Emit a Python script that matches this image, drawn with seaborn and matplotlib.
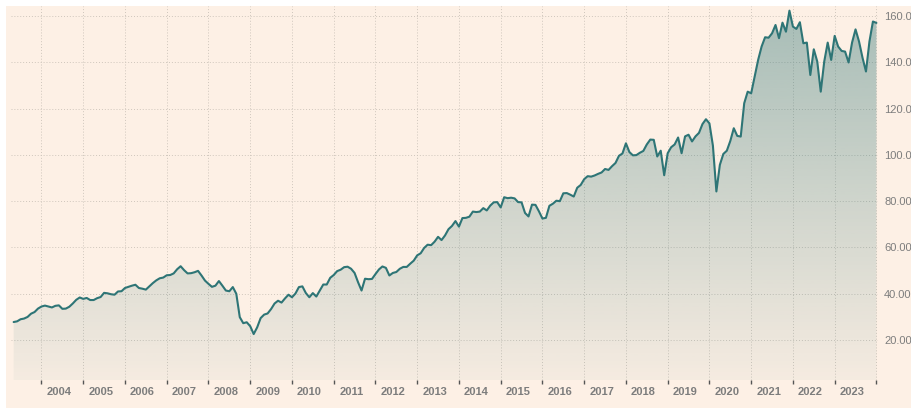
#plot.py
#monthly price history, 2003 - 2024, teal line with a faded gradient fill

import numpy as np
import pandas as pd
import matplotlib
matplotlib.use('Agg')
import matplotlib.pyplot as plt
from matplotlib.colors import to_rgb
from matplotlib.patches import PathPatch, Rectangle
import seaborn as sns

#monthly values, first month is May 2003
v2003 = [27.8, 28.1, 29.0, 29.3, 30.0, 31.4, 32.1, 33.6]
v2004 = [34.5, 34.9, 34.5, 34.1, 34.8, 35.0, 33.5, 33.6, 34.4, 35.8, 37.4, 38.4]
v2005 = [37.8, 38.2, 37.3, 37.3, 38.1, 38.6, 40.4, 40.2, 39.8, 39.6, 41.0, 41.1]
v2006 = [42.5, 43.0, 43.5, 43.9, 42.5, 42.2, 41.8, 43.2, 44.6, 45.8, 46.7, 47.0]
v2007 = [48.0, 48.1, 48.8, 50.6, 51.9, 50.2, 48.8, 48.9, 49.3, 49.9, 47.9, 45.7]
v2008 = [44.3, 43.0, 43.5, 45.5, 43.5, 41.4, 41.1, 42.9, 40.0, 29.9, 27.3, 27.7]
v2009 = [26.0, 22.6, 25.5, 29.5, 31.0, 31.5, 33.4, 35.8, 37.0, 36.2, 38.0, 39.6]
v2010 = [38.5, 40.1, 42.9, 43.2, 40.3, 38.5, 40.3, 38.8, 41.4, 44.0, 44.0, 46.9]
v2011 = [48.1, 49.8, 50.4, 51.5, 51.7, 50.8, 49.0, 45.0, 41.4, 46.5, 46.3, 46.4]
v2012 = [48.5, 50.5, 51.8, 51.2, 47.9, 49.0, 49.4, 50.8, 51.6, 51.6, 53.0, 54.3]
v2013 = [56.6, 57.5, 59.8, 61.2, 61.0, 62.5, 64.6, 63.2, 65.2, 67.9, 69.3, 71.4]
v2014 = [69.0, 72.7, 72.8, 73.3, 75.5, 75.3, 75.5, 77.0, 76.0, 78.1, 79.5, 79.6]
v2015 = [77.3, 81.7, 81.3, 81.5, 81.2, 79.6, 79.5, 74.9, 73.4, 78.5, 78.4, 75.6]
v2016 = [72.5, 72.8, 78.0, 78.9, 80.2, 80.0, 83.4, 83.5, 82.8, 82.0, 85.8, 87.0]
v2017 = [89.5, 90.8, 90.6, 91.1, 91.8, 92.4, 93.9, 93.5, 95.1, 96.5, 99.6, 100.6]
v2018 = [105.0, 101.2, 99.8, 99.9, 100.9, 101.7, 104.5, 106.6, 106.5, 99.3, 101.8, 91.2]
v2019 = [100.7, 103.3, 104.5, 107.5, 100.7, 108.0, 108.7, 105.8, 108.0, 109.5, 113.3, 115.4]
v2020 = [113.6, 104.0, 84.2, 95.7, 100.4, 101.8, 106.0, 111.5, 108.2, 107.9, 122.3, 127.3]
v2021 = [126.6, 133.8, 141.0, 146.8, 150.8, 150.6, 152.5, 156.1, 150.4, 157.1, 153.2, 162.3]
v2022 = [155.4, 154.4, 157.3, 148.2, 148.5, 134.5, 145.6, 140.3, 127.3, 140.3, 148.5, 141.0]
v2023 = [151.4, 146.8, 144.9, 144.6, 139.9, 148.5, 154.2, 149.0, 142.0, 136.0, 149.0, 157.6]
v2024 = [157.0]

year_labels = [str(y) for y in range(2004, 2024)]
y_ticks = [20, 40, 60, 80, 100, 120, 140, 160]

values = (v2003 + v2004 + v2005 + v2006 + v2007 + v2008 + v2009 + v2010 + v2011 + v2012
          + v2013 + v2014 + v2015 + v2016 + v2017 + v2018 + v2019 + v2020 + v2021
          + v2022 + v2023 + v2024)

dates = pd.date_range('2003-05-01', periods=len(values), freq='MS')
df = pd.DataFrame({'t': dates.year + (dates.month - 1) / 12.0, 'price': values})

#colours
peach = '#fdf0e5'
teal = '#2e7576'
grid_col = '#cfc6bc'

sns.set_theme(style='white')
plt.rcParams['font.family'] = ['Liberation Sans', 'DejaVu Sans']

fig = plt.figure(figsize=(9.12, 4.08), dpi=100, facecolor='white')

#peach panel behind everything (thin white strip left and top)
fig.patches.append(Rectangle((6 / 912, 0), 1, 402 / 408, transform=fig.transFigure,
                             facecolor=peach, edgecolor='none', zorder=-10))

ax = fig.add_axes([11 / 912, 28 / 408, 867.5 / 912, 374 / 408])
ax.set_zorder(1)
ax.set_facecolor(peach)

xlim = (2003.27, 2024.05)
ylim = (2.76, 164.3)

#line
sns.lineplot(data=df, x='t', y='price', ax=ax, color=teal, linewidth=1.5, zorder=4)

#gradient fill under the line, clipped to the area polygon
poly = ax.fill_between(df['t'], df['price'], ylim[0], color='none', linewidth=0)
clip = PathPatch(poly.get_paths()[0], transform=ax.transData, facecolor='none', edgecolor='none')
ax.add_patch(clip)
rgb = to_rgb(teal)
alpha = np.linspace(0.42, 0.04, 256)
grad = np.zeros((256, 1, 4))
grad[:, 0, 0], grad[:, 0, 1], grad[:, 0, 2] = rgb
grad[:, 0, 3] = alpha
im = ax.imshow(grad, extent=[xlim[0], xlim[1], ylim[0], ylim[1]], aspect='auto',
               origin='upper', zorder=2, interpolation='bilinear')
im.set_clip_path(clip)

ax.set_xlim(*xlim)
ax.set_ylim(*ylim)

#x axis: year boundaries as ticks, labels sit inside each year
ax.set_xticks(range(2004, 2025))
ax.set_xticklabels([])
ax.set_xticks([y + 0.42 for y in range(2004, 2024)], minor=True)
ax.set_xticklabels(year_labels, minor=True, fontsize=8, fontweight='bold', color='#7d7d7d')
ax.tick_params(axis='x', which='major', length=3, width=1, color='#555555', direction='out', bottom=True)
ax.tick_params(axis='x', which='minor', length=0, pad=5)

#y axis on the right (labels run off the right edge as in the source)
ax.yaxis.tick_right()
ax.set_yticks(y_ticks)
ax.set_yticklabels([f'{v:.2f}' for v in y_ticks], fontsize=8, color='#7d7d7d')
ax.tick_params(axis='y', length=0, pad=4)

ax.grid(True, which='major', axis='both', linestyle=(0, (1, 2)), color=grid_col, linewidth=0.7)
ax.set_axisbelow(True)
for s in ax.spines.values():
    s.set_visible(False)
ax.set_xlabel('')
ax.set_ylabel('')

fig.savefig('out.png', dpi=100, facecolor=fig.get_facecolor())
